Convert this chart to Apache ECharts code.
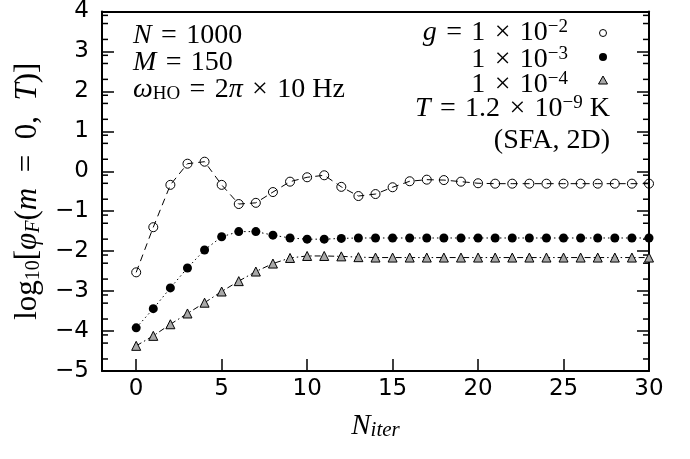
<!DOCTYPE html>
<html><head><meta charset="utf-8">
<script src="https://cdn.jsdelivr.net/npm/echarts@6/dist/echarts.min.js"></script>
<style>html,body{margin:0;padding:0;background:#fff}#c{width:690px;height:459px}</style>
</head><body><div id="c"></div>
<script>
const iterations = [0,1,2,3,4,5,6,7,8,9,10,11,12,13,14,15,16,17,18,19,20,21,22,23,24,25,26,27,28,29,30];
const g1e2 = [-2.53,-1.40,-0.34,0.19,0.24,-0.34,-0.82,-0.79,-0.52,-0.26,-0.15,-0.10,-0.39,-0.62,-0.57,-0.40,-0.25,-0.21,-0.22,-0.26,-0.30,-0.31,-0.31,-0.31,-0.31,-0.31,-0.31,-0.31,-0.31,-0.31,-0.31];
const g1e3 = [-3.92,-3.44,-2.92,-2.42,-1.97,-1.64,-1.51,-1.51,-1.60,-1.67,-1.70,-1.70,-1.68,-1.67,-1.67,-1.67,-1.67,-1.67,-1.67,-1.67,-1.67,-1.67,-1.67,-1.67,-1.67,-1.67,-1.67,-1.67,-1.67,-1.67,-1.67];
const g1e4 = [-4.37,-4.12,-3.83,-3.56,-3.29,-3.01,-2.75,-2.51,-2.31,-2.17,-2.12,-2.12,-2.13,-2.15,-2.16,-2.16,-2.16,-2.16,-2.16,-2.16,-2.16,-2.16,-2.16,-2.16,-2.16,-2.16,-2.16,-2.16,-2.16,-2.16,-2.16];
const xTicks = [0,5,10,15,20,25,30];
const yMajor = [-5,-4,-3,-2,-1,0,1,2,3,4];
const minorTickOffsets = [0.301, 0.699, 0.903];

const XMIN = -2, XMAX = 30, YMIN = -5, YMAX = 4;
const SANS = 'DejaVu Sans';
const SERIF = 'Liberation Serif';
const SP = '\u2004'; // math-style wider space
const EN = '\u2002';

const minorTickValues = [];
yMajor.slice(0, -1).forEach(n => minorTickOffsets.forEach(o => minorTickValues.push(n + o)));

function tok(size, italic, extra) {
  return Object.assign({fontFamily: SERIF, fontSize: size, fontStyle: italic ? 'italic' : 'normal', color: '#000'}, extra || {});
}
const LH = 30;
const richLegend = {
  r: tok(28, false, {lineHeight: LH}),
  i: tok(28, true, {lineHeight: LH}),
  sup: tok(19, false, {lineHeight: 12, verticalAlign: 'top'})
};
const tickRich = {
  m: {fontFamily: SANS, fontSize: 23, color: '#000'},
  d: {fontFamily: SANS, fontSize: 23, color: '#000'}
};

const chart = echarts.init(document.getElementById('c'), null, {renderer: 'canvas'});

const axisCommon = {
  axisLine: {onZero: false, lineStyle: {color: '#000', width: 2}},
  splitLine: {show: false}
};

chart.setOption({
  animation: false,
  backgroundColor: '#fff',
  grid: {left: 102, right: 41, top: 10, bottom: 88, containLabel: false},
  xAxis: [
    Object.assign({}, axisCommon, {
      type: 'value', min: XMIN, max: XMAX, position: 'bottom',
      axisTick: {inside: true, length: 12, customValues: xTicks, lineStyle: {color: '#000', width: 1.5}},
      axisLabel: {customValues: xTicks, color: '#000', fontFamily: SANS, fontSize: 23, margin: 7},
      name: '{i|N}{isub|iter}', nameLocation: 'middle', nameGap: 40,
      nameTextStyle: {rich: {i: tok(29, true, {lineHeight: LH}), isub: tok(21, true, {lineHeight: 16, verticalAlign: 'bottom'})}}
    }),
    Object.assign({}, axisCommon, {
      type: 'value', min: XMIN, max: XMAX, position: 'top',
      axisTick: {show: false}, axisLabel: {show: false}
    })
  ],
  yAxis: [
    Object.assign({}, axisCommon, {
      type: 'value', min: YMIN, max: YMAX, interval: 1, position: 'left',
      axisTick: {inside: true, length: 12, lineStyle: {color: '#000', width: 1.5}},
      axisLabel: {color: '#000', fontFamily: SANS, fontSize: 23, margin: 13,
        formatter: v => v < 0 ? '{m|\u2212}{d|' + Math.abs(v) + '}' : '{d|' + v + '}',
        rich: tickRich},
      name: '{r|log}{sub|10}{r|[}{i|\u03C6}{isub|F}{r|(}{i|m}{r|' + EN + '=' + EN + '0,' + EN + '}{i|T}{r|)]}',
      nameLocation: 'middle', nameGap: 52, nameRotate: 90,
      nameTextStyle: {rich: {
        r: tok(31, false, {lineHeight: 32}), i: tok(31, true, {lineHeight: 32}),
        sub: tok(20, false, {lineHeight: 14, verticalAlign: 'bottom'}),
        isub: tok(20, true, {lineHeight: 14, verticalAlign: 'bottom'})
      }}
    }),
    Object.assign({}, axisCommon, {
      type: 'value', min: YMIN, max: YMAX, interval: 1, position: 'right',
      axisTick: {inside: true, length: 12, lineStyle: {color: '#000', width: 1.5}},
      axisLabel: {show: false}
    })
  ],
  series: [
    {
      name: 'g1e2', type: 'line', data: iterations.map((x, i) => [x, g1e2[i]]),
      symbol: 'circle', symbolSize: 9,
      itemStyle: {color: 'rgba(255,255,255,0)', borderColor: '#000', borderWidth: 1},
      lineStyle: {color: '#000', width: 1, type: [7, 5]}, z: 3
    },
    {
      name: 'g1e3', type: 'line', data: iterations.map((x, i) => [x, g1e3[i]]),
      symbol: 'circle', symbolSize: 9,
      itemStyle: {color: '#000', borderColor: '#000', borderWidth: 0},
      lineStyle: {color: '#000', width: 1, type: [1.5, 3]}, z: 3
    },
    {
      name: 'g1e4', type: 'line', data: iterations.map((x, i) => [x, g1e4[i]]),
      symbol: 'triangle', symbolSize: 9,
      itemStyle: {color: '#a8a8a8', borderColor: '#000', borderWidth: 1},
      lineStyle: {color: '#000', width: 1, type: [6, 3, 1.5, 3]}, z: 3
    },
    {
      name: 'minorTicks', type: 'custom', silent: true, z: 2,
      data: minorTickValues.map(v => [XMIN, v]),
      renderItem: (params, api) => {
        const v = api.value(1);
        const pL = api.coord([XMIN, v]);
        const pR = api.coord([XMAX, v]);
        return {type: 'group', children: [
          {type: 'line', shape: {x1: pL[0], y1: pL[1], x2: pL[0] + 6, y2: pL[1]}, style: {stroke: '#000', lineWidth: 1.5}},
          {type: 'line', shape: {x1: pR[0], y1: pR[1], x2: pR[0] - 6, y2: pR[1]}, style: {stroke: '#000', lineWidth: 1.5}}
        ]};
      }
    }
  ],
  graphic: [
    {type: 'text', left: 133, top: 22, style: {
      text: '{i|N}{r|' + SP + '=' + SP + '1000}\n{i|M}{r|' + SP + '=' + SP + '150}\n{i|\u03C9}{sub|HO}{r|' + SP + '=' + SP + '2}{i|\u03C0}{r|' + SP + '\u00D7' + SP + '10 Hz}',
      rich: {r: tok(28, false, {lineHeight: 27}), i: tok(28, true, {lineHeight: 27}),
        sub: tok(19, false, {lineHeight: 12, verticalAlign: 'bottom'})}
    }},
    {type: 'text', x: 568, y: 33, style: {text: '{i|g}{r|' + SP + '=' + SP + '1' + SP + '\u00D7' + SP + '10}{sup|\u22122}', rich: richLegend, align: 'right', verticalAlign: 'middle'}},
    {type: 'text', x: 568, y: 60, style: {text: '{r|1' + SP + '\u00D7' + SP + '10}{sup|\u22123}', rich: richLegend, align: 'right', verticalAlign: 'middle'}},
    {type: 'text', x: 568, y: 85, style: {text: '{r|1' + SP + '\u00D7' + SP + '10}{sup|\u22124}', rich: richLegend, align: 'right', verticalAlign: 'middle'}},
    {type: 'text', x: 610, y: 109, style: {text: '{i|T}{r|' + SP + '=' + SP + '1.2' + SP + '\u00D7' + SP + '10}{sup|\u22129}{r| K}', rich: richLegend, align: 'right', verticalAlign: 'middle'}},
    {type: 'text', x: 610, y: 141, style: {text: '{r|(SFA, 2D)}', rich: richLegend, align: 'right', verticalAlign: 'middle'}},
    {type: 'circle', shape: {cx: 603, cy: 33, r: 3.5}, style: {fill: 'none', stroke: '#000', lineWidth: 1}},
    {type: 'circle', shape: {cx: 603, cy: 57, r: 4}, style: {fill: '#000'}},
    {type: 'polygon', shape: {points: [[603, 76], [607.5, 84], [598.5, 84]]}, style: {fill: '#a8a8a8', stroke: '#000', lineWidth: 1}}
  ]
});
</script></body></html>
